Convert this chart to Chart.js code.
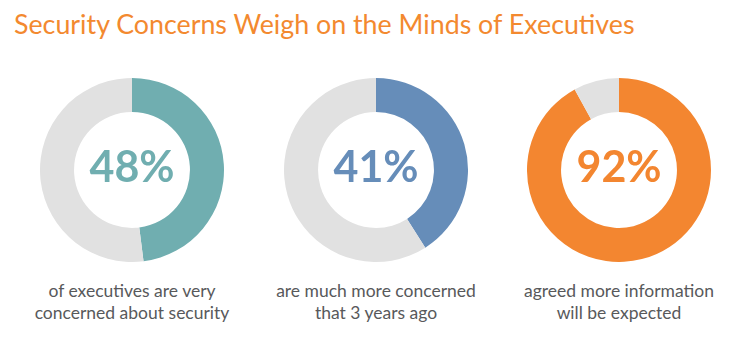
<!DOCTYPE html>
<html lang="en">
<head>
    <meta charset="UTF-8">
    <title>Security Concerns Weigh on the Minds of Executives</title>
    <script src="https://cdn.jsdelivr.net/npm/chart.js"></script>
    <style>
        body {
            margin: 0;
            background-color: #ffffff;
            font-family: Lato, "Open Sans", sans-serif;
        }
        .page {
            position: relative;
            width: 750px;
            height: 364px;
            overflow: hidden;
        }
        .title {
            position: absolute;
            left: 14px;
            top: 8px;
            margin: 0;
            font-size: 26.8px;
            font-weight: 400;
            line-height: 1.2;
            color: #f3892f;
            white-space: nowrap;
        }
        .donut {
            position: absolute;
            top: 78px;
        }
        .pct {
            position: absolute;
            top: 144px;
            width: 200px;
            text-align: center;
            font-size: 43px;
            font-weight: 700;
            line-height: 44px;
        }
        .caption {
            position: absolute;
            top: 280px;
            width: 240px;
            text-align: center;
            font-size: 17.5px;
            line-height: 22px;
            color: #58595b;
        }
    </style>
</head>
<body>
    <div class="page" id="page">
        <h1 class="title">Security Concerns Weigh on the Minds of Executives</h1>
    </div>

    <script>
        // values
        var percents = [48, 41, 92];
        var captions = [
            ['of executives are very', 'concerned about security'],
            ['are much more concerned', 'that 3 years ago'],
            ['agreed more information', 'will be expected']
        ];
        var colors = ['#70aeb0', '#668db9', '#f38630'];
        var restColor = '#e1e1e1';
        var centersX = [132, 376, 619];

        var radius = 92;
        var page = document.getElementById('page');

        percents.forEach(function (value, i) {
            var canvas = document.createElement('canvas');
            canvas.className = 'donut';
            canvas.width = radius * 2;
            canvas.height = radius * 2;
            canvas.style.left = (centersX[i] - radius) + 'px';
            page.appendChild(canvas);

            new Chart(canvas.getContext('2d'), {
                type: 'doughnut',
                data: {
                    labels: ['Yes', 'Other'],
                    datasets: [{
                        data: [value, 100 - value],
                        backgroundColor: [colors[i], restColor],
                        borderWidth: 0
                    }]
                },
                options: {
                    responsive: false,
                    animation: false,
                    cutout: '63%',
                    layout: { padding: 0 },
                    plugins: {
                        legend: { display: false },
                        tooltip: { enabled: false }
                    }
                }
            });

            var pct = document.createElement('div');
            pct.className = 'pct';
            pct.style.left = (centersX[i] - 100) + 'px';
            pct.style.color = colors[i];
            pct.textContent = value + '%';
            page.appendChild(pct);

            var cap = document.createElement('div');
            cap.className = 'caption';
            cap.style.left = (centersX[i] - 120) + 'px';
            cap.innerHTML = captions[i].join('<br>');
            page.appendChild(cap);
        });
    </script>
</body>
</html>
